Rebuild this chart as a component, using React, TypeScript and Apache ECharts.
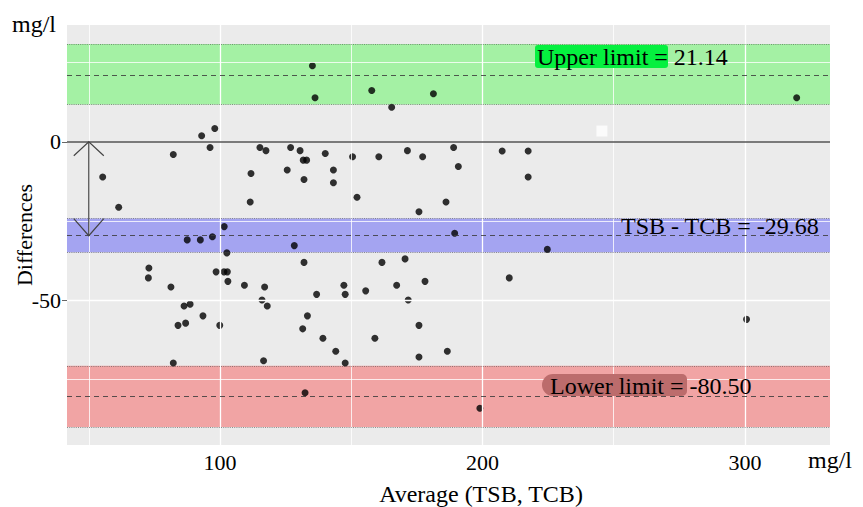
import React, { useEffect, useRef } from "react";
import * as echarts from "echarts";

// Average (TSB, TCB) in mg/l
const avgValues = [
  135.2, 136.2, 98.0, 93.0, 96.2, 82.2, 55.3, 115.2, 117.5, 126.9,
  130.5, 131.7, 133.0, 140.1, 150.5, 111.8, 125.6, 132.0, 143.2, 143.2,
  152.2, 111.5, 157.8, 181.3, 165.4, 160.5, 171.4, 177.2, 189.0, 190.8,
  207.5, 217.4, 217.4, 186.1, 319.7, 61.4, 87.5, 92.5, 97.1, 101.6,
  128.3, 102.6, 132.0, 72.9, 72.7, 98.5, 101.5, 102.8, 103.0, 109.3,
  117.0, 81.3, 136.8, 147.2, 147.7, 116.0, 118.0, 86.3, 88.6, 93.5,
  84.0, 86.9, 99.9, 133.3, 131.5, 139.2, 144.1, 82.2, 116.6, 147.7,
  175.8, 189.4, 224.7, 161.7, 170.5, 210.2, 155.5, 167.3, 178.1, 171.7,
  175.8, 159.0, 186.6, 175.8, 132.4, 199.0, 300.6,
];
// Differences (TSB - TCB) in mg/l
const diffValues = [
  24.0, 13.9, 4.2, 1.9, -1.8, -4.0, -11.1, -1.8, -2.8, -1.8,
  -2.8, -5.8, -5.8, -3.7, -4.7, -10.0, -8.9, -11.9, -8.9, -12.95,
  -17.5, -19.0, 16.2, 15.2, 10.9, -4.7, -2.8, -4.7, -1.8, -7.8,
  -2.9, -2.9, -11.1, -19.0, 13.9, -20.7, -31.0, -31.0, -30.0, -26.8,
  -32.8, -35.1, -38.1, -39.9, -43.0, -41.1, -41.1, -41.1, -44.1, -45.3,
  -45.9, -45.9, -48.2, -45.3, -48.2, -50.0, -51.9, -51.9, -51.3, -55.0,
  -58.0, -57.3, -58.0, -55.0, -59.1, -62.1, -66.2, -69.9, -69.2, -69.9,
  -22.1, -28.9, -34.0, -38.1, -37.0, -43.0, -47.1, -45.3, -44.1, -50.0,
  -58.0, -62.1, -66.2, -68.0, -79.3, -84.2, -56.1,
];

// Limits of agreement: upper, mean difference, lower, with their bands
const limitValues = [21.14, -29.68, -80.5];
const bandHigh = [30.9, -24.2, -70.8];
const bandLow = [11.8, -34.9, -90.1];
const bandColors = ["rgba(0,255,0,0.3)", "rgba(0,0,255,0.3)", "rgba(255,0,0,0.3)"];

const xTicks = [100, 200, 300];
const yTicks = [-50, 0];
const xGridMajor = [100, 200, 300];
const xGridMinor = [50, 150, 250];
const yGridMajor = [-50];
const yGridMinor = [-75, -25, 25];

// stray white square in the original
const artifactPoint = [245.5, 3.4];
const arrowX = 50;

const X_MIN = 41.7;
const X_MAX = 332.4;
const Y_MIN = -95.8;
const Y_MAX = 36.9;

const SERIF = "'Liberation Serif', 'Times New Roman', serif";

export default function App() {
  const ref = useRef<HTMLDivElement>(null);

  useEffect(() => {
    if (!ref.current) return;
    const chart = echarts.init(ref.current, null, { renderer: "svg" });

    const gridLineData: any[] = [];
    xGridMajor.forEach((v) => gridLineData.push({ xAxis: v, lineStyle: { color: "#fff", width: 1.3, type: "solid" } }));
    xGridMinor.forEach((v) => gridLineData.push({ xAxis: v, lineStyle: { color: "#fff", width: 0.8, type: "solid" } }));
    yGridMajor.forEach((v) => gridLineData.push({ yAxis: v, lineStyle: { color: "#fff", width: 1.3, type: "solid" } }));
    yGridMinor.forEach((v) => gridLineData.push({ yAxis: v, lineStyle: { color: "#fff", width: 0.8, type: "solid" } }));
    gridLineData.push({ yAxis: 0, lineStyle: { color: "#555", width: 1.6, type: "solid" } });

    const bandAreas = limitValues.map((_, i) => [
      { yAxis: bandHigh[i], itemStyle: { color: bandColors[i], opacity: 1 } },
      { yAxis: bandLow[i] },
    ]);
    const bandLines: any[] = [];
    limitValues.forEach((v, i) => {
      bandLines.push({ yAxis: v, lineStyle: { color: "rgba(60,60,60,0.85)", width: 1.1, type: [5, 4] } });
      bandLines.push({ yAxis: bandHigh[i], lineStyle: { color: "rgba(80,80,80,0.6)", width: 1, type: [1, 1.2] } });
      bandLines.push({ yAxis: bandLow[i], lineStyle: { color: "rgba(80,80,80,0.6)", width: 1, type: [1, 1.2] } });
    });

    const axisCommon = {
      type: "value" as const,
      axisLine: { show: false },
      splitLine: { show: false },
    };

    chart.setOption({
      animation: false,
      grid: {
        left: 67,
        right: 33,
        top: 25,
        bottom: 62,
        show: true,
        backgroundColor: "#EBEBEB",
        borderWidth: 0,
        outerBoundsMode: "none",
      },
      xAxis: {
        ...axisCommon,
        min: X_MIN,
        max: X_MAX,
        axisTick: { show: true, customValues: xTicks, length: 5, lineStyle: { color: "#666" } },
        axisLabel: { customValues: xTicks, fontFamily: SERIF, fontSize: 22, color: "#000", margin: 6 },
      },
      yAxis: {
        ...axisCommon,
        min: Y_MIN,
        max: Y_MAX,
        axisTick: { show: true, customValues: yTicks, length: 5, lineStyle: { color: "#666" } },
        axisLabel: { customValues: yTicks, fontFamily: SERIF, fontSize: 22, color: "#000", margin: 6 },
      },
      series: [
        {
          type: "line",
          data: [],
          z: 1,
          silent: true,
          markLine: { silent: true, symbol: ["none", "none"], label: { show: false }, data: gridLineData },
        },
        {
          type: "scatter",
          z: 2,
          symbol: "circle",
          symbolSize: 7,
          itemStyle: { color: "#000" },
          data: avgValues.map((x, i) => [x, diffValues[i]]),
        },
        {
          type: "scatter",
          z: 2,
          symbol: "rect",
          symbolSize: 11,
          itemStyle: { color: "#fff" },
          data: [artifactPoint],
        },
        {
          type: "line",
          data: [],
          z: 3,
          silent: true,
          markArea: { silent: true, data: bandAreas },
          markLine: { silent: true, symbol: ["none", "none"], label: { show: false }, data: bandLines },
        },
      ],
    });

    const p0 = chart.convertToPixel({ xAxisIndex: 0, yAxisIndex: 0 }, [arrowX, 0]) as number[];
    const p1 = chart.convertToPixel({ xAxisIndex: 0, yAxisIndex: 0 }, [arrowX, limitValues[1]]) as number[];
    const arrowStyle = { stroke: "#444", lineWidth: 1.2, fill: null };

    const textStyle = (extra: any) => ({ fontFamily: SERIF, fontSize: 24, fill: "#000", ...extra });

    chart.setOption({
      graphic: [
        { type: "line", z: 50, shape: { x1: p0[0], y1: p0[1], x2: p1[0], y2: p1[1] }, style: arrowStyle },
        {
          type: "polyline",
          z: 50,
          shape: { points: [[p0[0] - 15, p0[1] + 14], [p0[0], p0[1]], [p0[0] + 15, p0[1] + 14]] },
          style: arrowStyle,
        },
        {
          type: "polyline",
          z: 50,
          shape: { points: [[p1[0] - 15, p1[1] - 17], [p1[0], p1[1]], [p1[0] + 15, p1[1] - 17]] },
          style: arrowStyle,
        },
        { type: "rect", z: 60, shape: { x: 535, y: 45, width: 133, height: 23, r: 3 }, style: { fill: "#05F03F" } },
        {
          type: "text",
          z: 61,
          x: 537,
          y: 57,
          style: textStyle({ text: "Upper limit = 21.14", verticalAlign: "middle", align: "left" }),
        },
        {
          type: "text",
          z: 61,
          x: 621,
          y: 226,
          style: textStyle({ text: "TSB - TCB = -29.68", verticalAlign: "middle", align: "left" }),
        },
        {
          type: "rect",
          z: 60,
          shape: { x: 542, y: 374, width: 145, height: 22, r: [11, 5, 5, 11] },
          style: { fill: "#BC6C6C" },
        },
        {
          type: "text",
          z: 61,
          x: 550,
          y: 386,
          style: textStyle({ text: "Lower limit = -80.50", verticalAlign: "middle", align: "left" }),
        },
        {
          type: "text",
          x: 12,
          y: 24,
          style: textStyle({ text: "mg/l", verticalAlign: "middle", align: "left" }),
        },
        {
          type: "text",
          x: 808,
          y: 460,
          style: textStyle({ text: "mg/l", verticalAlign: "middle", align: "left" }),
        },
        {
          type: "text",
          x: 481,
          y: 494,
          style: textStyle({ text: "Average (TSB, TCB)", verticalAlign: "middle", align: "center" }),
        },
        {
          type: "text",
          x: 24,
          y: 235,
          rotation: Math.PI / 2,
          style: textStyle({ text: "Differences", fontSize: 22, verticalAlign: "middle", align: "center" }),
        },
      ],
    });

    return () => chart.dispose();
  }, []);

  return (
    <div
      ref={ref}
      style={{ position: "fixed", left: 0, top: 0, width: 863, height: 507, background: "#fff" }}
    />
  );
}
